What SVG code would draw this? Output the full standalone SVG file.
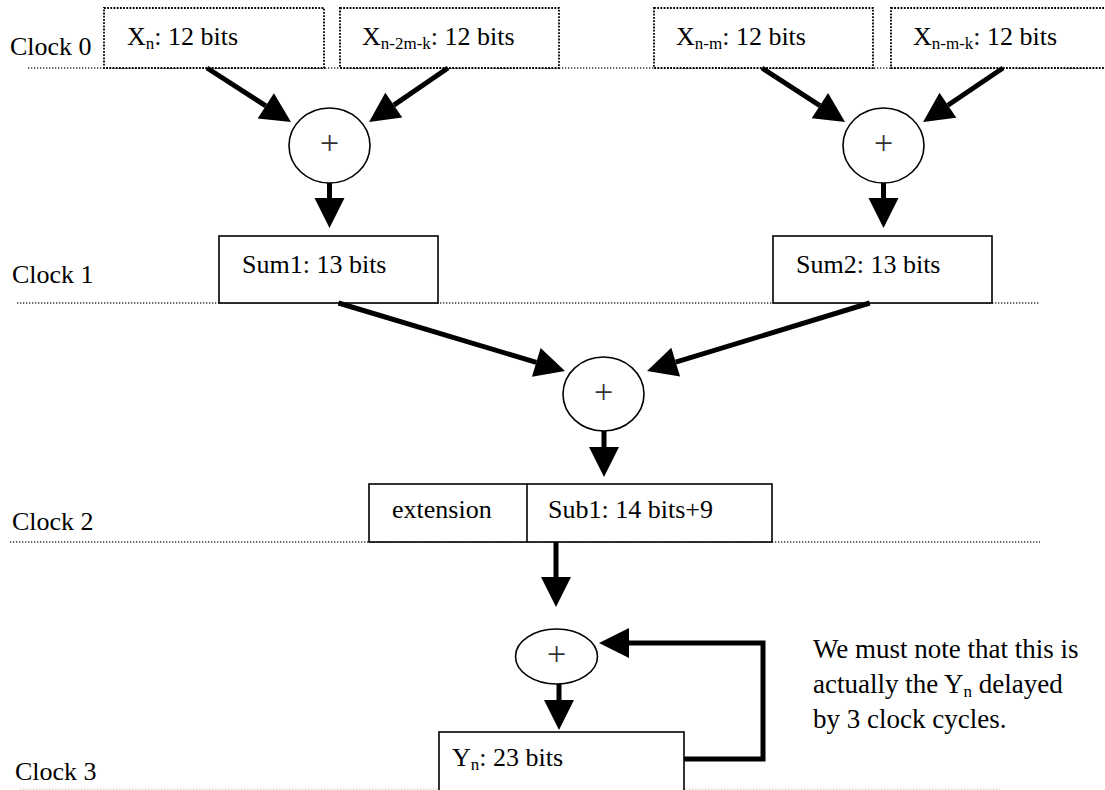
<svg xmlns="http://www.w3.org/2000/svg" width="1105" height="790" viewBox="0 0 1105 790">
  <style>
    .t { font-family: "Liberation Serif", "Times New Roman", serif; font-size: 26px; fill: #000; }
    .note { font-family: "Liberation Serif", "Times New Roman", serif; font-size: 27px; fill: #000; }
    .plus { font-family: "Liberation Serif", "Times New Roman", serif; font-size: 34px; fill: #333; text-anchor: middle; }
    .clk { fill: none; stroke: #333; stroke-width: 1.3; stroke-dasharray: 1.3 1.7; }
    .clk3 { fill: none; stroke: #bbb; stroke-width: 1.2; stroke-dasharray: 1.2 2; }
    .dbox { fill: #fff; stroke: #000; stroke-width: 1.8; stroke-dasharray: 1.8 1.4; }
    .box { fill: #fff; stroke: #000; stroke-width: 1.6; }
    .add { fill: #fff; stroke: #000; stroke-width: 1.6; }
    .wire { fill: none; stroke: #000; stroke-width: 5; marker-end: url(#head); }
  </style>
  <defs>
    <!-- filled triangular arrowhead, placed after the end of each wire -->
    <marker id="head" markerUnits="userSpaceOnUse" markerWidth="30" markerHeight="30" refX="0" refY="15" orient="auto" overflow="visible">
      <path d="M0,0 L30,15 L0,30 Z" fill="#000"/>
    </marker>
  </defs>

  <rect width="1105" height="790" fill="#fff"/>

  <!-- clock boundaries -->
  <g id="clock-lines">
    <line class="clk" x1="28" y1="68" x2="1105" y2="68"/>
    <line class="clk" x1="17" y1="303" x2="1040" y2="303"/>
    <line class="clk" x1="10" y1="542" x2="1040" y2="542"/>
    <line class="clk3" x1="20" y1="789" x2="1000" y2="789"/>
  </g>
  <g id="clock-labels">
    <text class="t" x="10" y="55">Clock 0</text>
    <text class="t" x="12" y="283">Clock 1</text>
    <text class="t" x="12" y="530">Clock 2</text>
    <text class="t" x="15" y="780">Clock 3</text>
  </g>

  <!-- input registers -->
  <g id="x-n">
    <rect class="dbox" x="104" y="8" width="220" height="60"/>
    <text class="t" x="127" y="45">X<tspan font-size="17" dy="4">n</tspan><tspan dy="-4">: 12 bits</tspan></text>
  </g>
  <g id="x-n-2m-k">
    <rect class="dbox" x="340" y="8" width="219" height="60"/>
    <text class="t" x="362" y="45">X<tspan font-size="17" dy="4">n-2m-k</tspan><tspan dy="-4">: 12 bits</tspan></text>
  </g>
  <g id="x-n-m">
    <rect class="dbox" x="654" y="8" width="219" height="60"/>
    <text class="t" x="676" y="45">X<tspan font-size="17" dy="4">n-m</tspan><tspan dy="-4">: 12 bits</tspan></text>
  </g>
  <g id="x-n-m-k">
    <rect class="dbox" x="891" y="8" width="230" height="60"/>
    <text class="t" x="913" y="45">X<tspan font-size="17" dy="4">n-m-k</tspan><tspan dy="-4">: 12 bits</tspan></text>
  </g>

  <!-- adders -->
  <g id="add1">
    <ellipse class="add" cx="329.5" cy="145.5" rx="40.5" ry="37.5"/>
    <text class="plus" x="329.5" y="154">+</text>
  </g>
  <g id="add2">
    <ellipse class="add" cx="883.5" cy="145.5" rx="40.5" ry="37.5"/>
    <text class="plus" x="883.5" y="154">+</text>
  </g>
  <g id="add3">
    <ellipse class="add" cx="603.5" cy="394" rx="40.5" ry="37"/>
    <text class="plus" x="603.5" y="402.5">+</text>
  </g>
  <g id="add4">
    <ellipse class="add" cx="556.5" cy="656.5" rx="41" ry="27.5"/>
    <text class="plus" x="556.5" y="665">+</text>
  </g>

  <!-- intermediate registers -->
  <g id="sum1">
    <rect class="box" x="219" y="236" width="219" height="67"/>
    <text class="t" x="242" y="273">Sum1: 13 bits</text>
  </g>
  <g id="sum2">
    <rect class="box" x="773" y="236" width="219" height="67"/>
    <text class="t" x="796" y="273">Sum2: 13 bits</text>
  </g>
  <g id="sub1">
    <rect class="box" x="369" y="484" width="403" height="58"/>
    <line x1="527" y1="484" x2="527" y2="542" stroke="#000" stroke-width="1.6"/>
    <text class="t" x="392" y="518">extension</text>
    <text class="t" x="548" y="518">Sub1: 14 bits+9</text>
  </g>
  <g id="y-n">
    <rect class="box" x="439" y="732" width="245" height="70"/>
    <text class="t" x="452" y="766">Y<tspan font-size="17" dy="4">n</tspan><tspan dy="-4">: 23 bits</tspan></text>
  </g>

  <!-- connectors -->
  <g id="connectors">
    <line class="wire" x1="207" y1="68" x2="265.8" y2="105.8"/>
    <line class="wire" x1="448" y1="68" x2="393.8" y2="105.1"/>
    <line class="wire" x1="762" y1="68" x2="819.9" y2="105.6"/>
    <line class="wire" x1="1003" y1="68" x2="947.9" y2="105.2"/>
    <line class="wire" x1="329.5" y1="183" x2="329.5" y2="198"/>
    <line class="wire" x1="883.5" y1="183" x2="883.5" y2="198"/>
    <line class="wire" x1="338.5" y1="303" x2="536.3" y2="362.4"/>
    <line class="wire" x1="869.7" y1="303" x2="675.7" y2="362.2"/>
    <line class="wire" x1="604" y1="431" x2="604" y2="447"/>
    <line class="wire" x1="556" y1="542" x2="556" y2="577"/>
    <line class="wire" x1="559" y1="684" x2="559" y2="700"/>
    <polyline class="wire" points="684,759 763,759 763,643 629,643"/>
  </g>

  <!-- remark -->
  <g id="note">
    <text class="note" x="813" y="658">We must note that this is</text>
    <text class="note" x="813" y="693">actually the Y<tspan font-size="17" dy="4">n</tspan><tspan dy="-4"> delayed</tspan></text>
    <text class="note" x="813" y="728">by 3 clock cycles.</text>
  </g>
</svg>
